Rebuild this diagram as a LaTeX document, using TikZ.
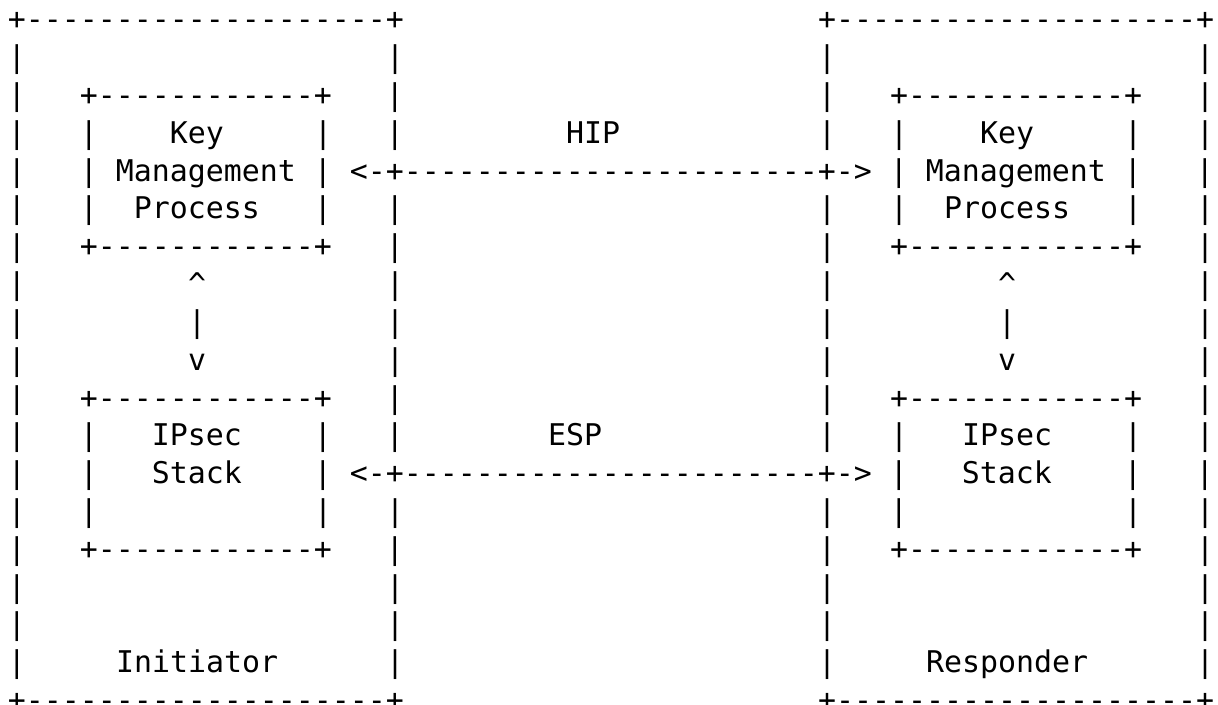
\documentclass[tikz,border=0pt]{standalone}
\usepackage{fontspec}
\setmonofont{DejaVu Sans Mono}
\newlength\chw
\setlength\chw{9pt}
\newcommand\gap[1]{\hspace*{#1\chw}}
\newcommand\dashTwenty{--------------------}
\newcommand\dashTwelve{------------}
\newcommand\dashMid{-----------------------}
\newcommand\rowOuter{+\dashTwenty+\gap{23}+\dashTwenty+}
\newcommand\rowSides{|\gap{20}|\gap{23}|\gap{20}|}
\newcommand\rowBox{|\gap{3}+\dashTwelve+\gap{3}|\gap{23}|\gap{3}+\dashTwelve+\gap{3}|}
\begin{document}
\begin{tikzpicture}[x=1pt,y=1pt,
  asciirow/.style={anchor=base west, inner sep=0pt, outer sep=0pt,
    font=\ttfamily\fontsize{14.95pt}{18pt}\selectfont, text=black}]
\useasboundingbox (0,0) rectangle (609,-352.5);
\node[asciirow] (r0)  at (4,{-15-18.9*0})  {\rowOuter};
\node[asciirow] (r1)  at (4,{-15-18.9*1})  {\rowSides};
\node[asciirow] (r2)  at (4,{-15-18.9*2})  {\rowBox};
\node[asciirow] (r3)  at (4,{-15-18.9*3})  {|\gap{3}|\gap{4}Key\gap{5}|\gap{3}|\gap{9}HIP\gap{11}|\gap{3}|\gap{4}Key\gap{5}|\gap{3}|};
\node[asciirow] (r4)  at (4,{-15-18.9*4})  {|\gap{3}|\gap{1}Management\gap{1}|\gap{1}<-+\dashMid+->\gap{1}|\gap{1}Management\gap{1}|\gap{3}|};
\node[asciirow] (r5)  at (4,{-15-18.9*5})  {|\gap{3}|\gap{2}Process\gap{3}|\gap{3}|\gap{23}|\gap{3}|\gap{2}Process\gap{3}|\gap{3}|};
\node[asciirow] (r6)  at (4,{-15-18.9*6})  {\rowBox};
\node[asciirow] (r7)  at (4,{-15-18.9*7})  {|\gap{9}\textasciicircum\gap{10}|\gap{23}|\gap{9}\textasciicircum\gap{10}|};
\node[asciirow] (r8)  at (4,{-15-18.9*8})  {|\gap{9}|\gap{10}|\gap{23}|\gap{9}|\gap{10}|};
\node[asciirow] (r9)  at (4,{-15-18.9*9})  {|\gap{9}v\gap{10}|\gap{23}|\gap{9}v\gap{10}|};
\node[asciirow] (r10) at (4,{-15-18.9*10}) {\rowBox};
\node[asciirow] (r11) at (4,{-15-18.9*11}) {|\gap{3}|\gap{3}IPsec\gap{4}|\gap{3}|\gap{8}ESP\gap{12}|\gap{3}|\gap{3}IPsec\gap{4}|\gap{3}|};
\node[asciirow] (r12) at (4,{-15-18.9*12}) {|\gap{3}|\gap{3}Stack\gap{4}|\gap{1}<-+\dashMid+->\gap{1}|\gap{3}Stack\gap{4}|\gap{3}|};
\node[asciirow] (r13) at (4,{-15-18.9*13}) {|\gap{3}|\gap{12}|\gap{3}|\gap{23}|\gap{3}|\gap{12}|\gap{3}|};
\node[asciirow] (r14) at (4,{-15-18.9*14}) {\rowBox};
\node[asciirow] (r15) at (4,{-15-18.9*15}) {\rowSides};
\node[asciirow] (r16) at (4,{-15-18.9*16}) {\rowSides};
\node[asciirow] (r17) at (4,{-15-18.9*17}) {|\gap{5}Initiator\gap{6}|\gap{23}|\gap{5}Responder\gap{6}|};
\node[asciirow] (r18) at (4,{-15-18.9*18}) {\rowOuter};
\end{tikzpicture}
\end{document}
